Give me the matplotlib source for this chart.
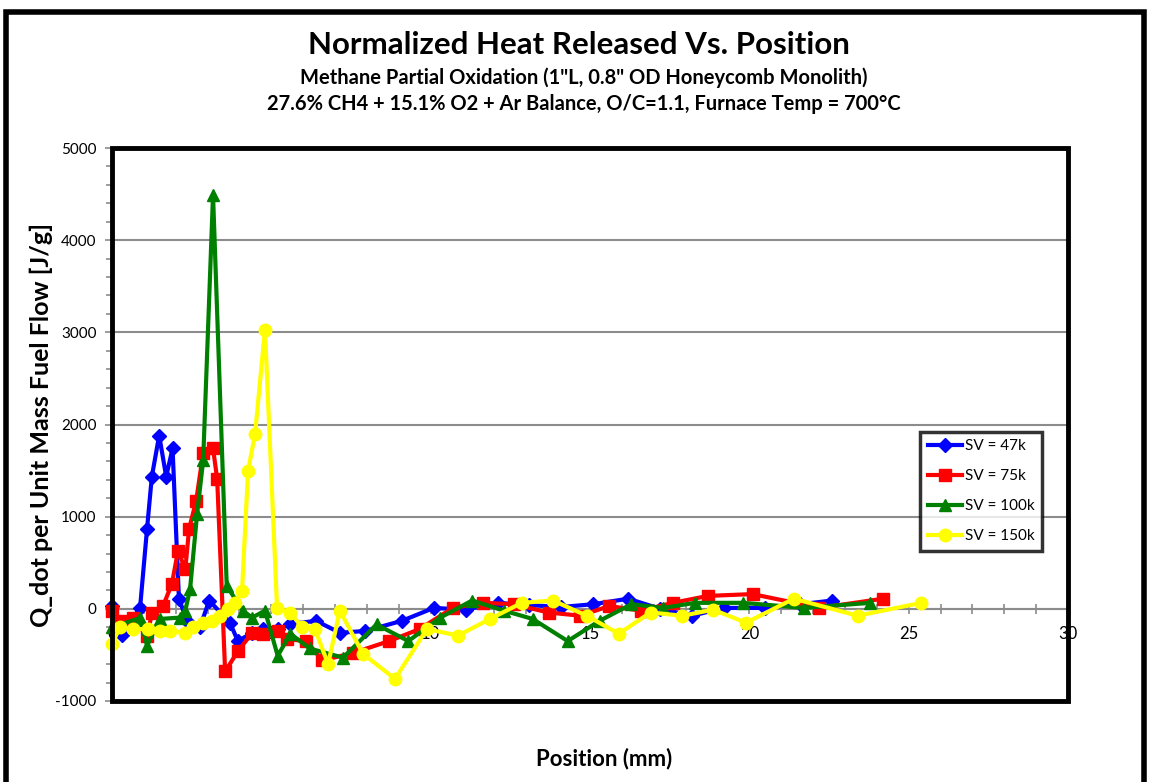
import matplotlib.pyplot as plt
import matplotlib.ticker as mticker
from matplotlib.patches import Rectangle

plt.rcParams["font.family"] = ["Lato", "DejaVu Sans"]
plt.rcParams["axes.unicode_minus"] = False

# --- data ---
pos_47k = [0.0, 0.3, 0.88, 1.1, 1.25, 1.48, 1.7, 1.9, 2.1, 2.35, 2.76, 3.05, 3.7,
           3.95, 4.4, 4.75, 5.2, 5.6, 6.4, 7.15, 7.95, 9.1, 10.1, 11.1, 12.1,
           13.1, 14.1, 15.1, 16.2, 17.2, 18.2, 19.2, 20.5, 21.6, 22.6]
q_47k = [30, -280, 10, 870, 1435, 1880, 1435, 1740, 110, -130, -200, 90, -150,
         -350, -260, -220, -220, -165, -130, -260, -240, -130, 10, -10, 65,
         40, 20, 50, 110, 0, -75, 10, 10, 50, 90]

pos_75k = [0.0, 0.25, 0.66, 1.1, 1.25, 1.6, 1.88, 2.07, 2.3, 2.42, 2.64, 2.86,
           3.17, 3.3, 3.55, 3.95, 4.4, 4.75, 5.2, 5.5, 6.1, 6.6, 7.55, 8.7,
           9.65, 10.7, 11.65, 12.6, 13.7, 14.7, 15.6, 16.6, 17.6, 18.7, 20.1,
           22.2, 24.2]
q_75k = [-20, -130, -100, -300, -50, 30, 270, 630, 430, 870, 1170, 1690,
         1740, 1410, -680, -460, -260, -270, -240, -330, -350, -560, -480, -350,
         -220, 10, 65, 50, -40, -75, 30, -20, 65, 140, 160,
         10, 110]

pos_100k = [0.0, 0.88, 1.1, 1.5, 2.13, 2.3, 2.45, 2.67, 2.86, 3.17, 3.6, 4.1,
            4.4, 4.8, 5.2, 5.6, 6.2, 7.25, 8.3, 9.3, 10.3, 11.3, 12.3, 13.2,
            14.3, 15.3, 16.3, 17.3, 18.3, 19.8, 21.7, 23.8]
q_100k = [-200, -100, -400, -110, -95, -20, 215, 1030, 1610, 4490, 250, -20,
          -95, -20, -510, -270, -430, -530, -170, -350, -95, 90, -20, -110,
          -350, -130, 50, 10, 65, 65, 10, 65]

pos_150k = [0.0, 0.25, 0.66, 1.13, 1.5, 1.82, 2.3, 2.55, 2.86, 3.14, 3.4, 3.65,
            3.86, 4.08, 4.27, 4.49, 4.8, 5.18, 5.6, 5.96, 6.37, 6.78, 7.15,
            7.88, 8.88, 9.88, 10.86, 11.86, 12.86, 13.84, 14.9, 15.9, 16.9,
            17.9, 18.86, 19.9, 21.4, 23.4, 25.4]
q_150k = [-380, -200, -220, -220, -240, -240, -260, -200, -150, -130, -75, 0,
          65, 195, 1500, 1900, 3030, 10, -40, -200, -220, -600, -20,
          -490, -760, -220, -290, -110, 65, 90, -75, -270, -40,
          -75, -10, -150, 110, -75, 65]

series = [
    ("SV = 47k", pos_47k, q_47k, "#0000FF", "D", 7),
    ("SV = 75k", pos_75k, q_75k, "#FF0000", "s", 8),
    ("SV = 100k", pos_100k, q_100k, "#008000", "^", 8),
    ("SV = 150k", pos_150k, q_150k, "#FFFF00", "o", 9),
]

fig = plt.figure(figsize=(11.5, 7.82), dpi=100)
ax = fig.add_axes([0.0974, 0.1036, 0.8313, 0.7071])

ax.grid(axis="y", color="#8c8c8c", linewidth=1.5)
ax.set_axisbelow(True)

for label, x, y, color, marker, size in series:
    ax.plot(x, y, color=color, marker=marker, markersize=size, linewidth=3,
            label=label, clip_on=False, zorder=3)

ax.set_xlim(0, 30)
ax.set_ylim(-1000, 5000)
ax.yaxis.set_major_locator(mticker.MultipleLocator(1000))
ax.yaxis.set_minor_locator(mticker.MultipleLocator(200))
ax.xaxis.set_major_locator(mticker.MultipleLocator(5))
ax.xaxis.set_minor_locator(mticker.MultipleLocator(1))

# x axis crosses at y = 0, plot area has a thick black frame
ax.spines["bottom"].set_position(("data", 0))
ax.spines["bottom"].set_color("#8c8c8c")
ax.spines["bottom"].set_linewidth(1.5)
ax.spines[["top", "right", "left"]].set_visible(False)
ax.add_patch(Rectangle((0, 0), 1, 1, transform=ax.transAxes, fill=False,
                       edgecolor="black", linewidth=3.5, clip_on=False, zorder=5))

ax.tick_params(axis="x", which="both", direction="inout", color="#8c8c8c",
               width=1.2, labelsize=12, pad=9)
ax.tick_params(axis="x", which="major", length=7)
ax.tick_params(axis="x", which="minor", length=7)
ax.tick_params(axis="y", which="both", direction="out", color="#8c8c8c", width=1.2,
               labelsize=11, left=True, pad=6)
ax.tick_params(axis="y", which="major", length=5)
ax.tick_params(axis="y", which="minor", length=4)

ax.set_ylabel("Q_dot per Unit Mass Fuel Flow [J/g]", fontsize=18, fontweight="bold",
              labelpad=2)
ax.set_xlabel("Position (mm)", fontsize=16, fontweight="bold")
ax.xaxis.set_label_coords(0.515, -0.085)

leg = ax.legend(loc="upper right", bbox_to_anchor=(0.973, 0.487), fontsize=11,
                frameon=True, fancybox=False, edgecolor="black", handlelength=2.2,
                borderpad=0.5, labelspacing=1.05, handletextpad=0.2,
                borderaxespad=0)
leg.get_frame().set_linewidth(2.5)

fig.text(0.503, 0.942, "Normalized Heat Released Vs. Position", ha="center",
         va="center", fontsize=22.5, fontweight="bold")
fig.text(0.508, 0.900, "Methane Partial Oxidation (1\"L, 0.8\" OD Honeycomb Monolith)",
         ha="center", va="center", fontsize=14.5, fontweight="bold")
fig.text(0.508, 0.867, "27.6% CH4 + 15.1% O2 + Ar Balance, O/C=1.1, Furnace Temp = 700\u00b0C",
         ha="center", va="center", fontsize=14.5, fontweight="bold")

# outer chart border
fig.add_artist(Rectangle((0.005, -0.05), 0.99, 1.035, transform=fig.transFigure,
                         fill=False, edgecolor="black", linewidth=4))

fig.savefig("out.png", dpi=100)
